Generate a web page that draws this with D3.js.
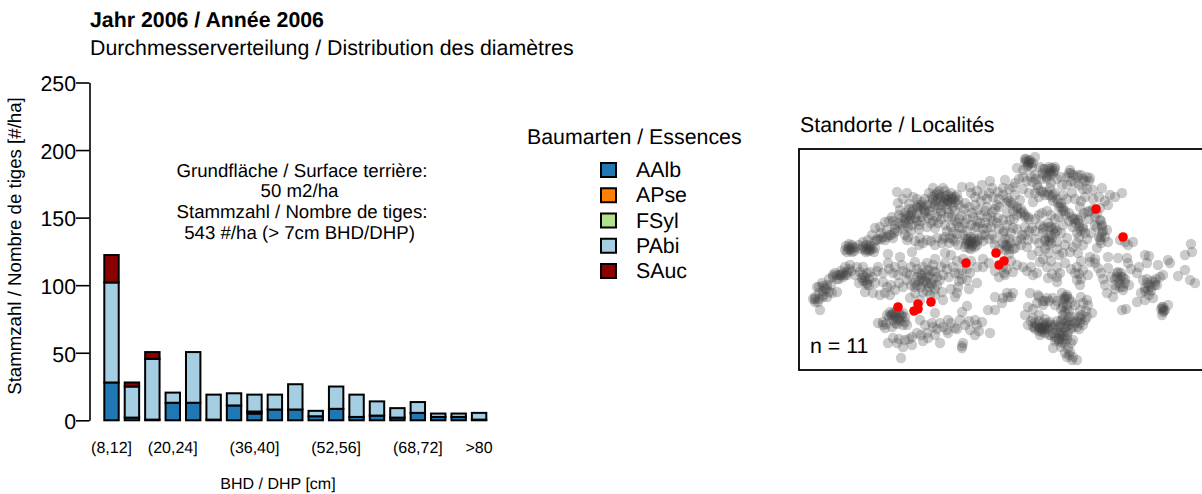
<!DOCTYPE html>
<html>
<head>
<meta charset="utf-8">
<script src="https://cdn.jsdelivr.net/npm/d3@7"></script>
<style>
html,body{margin:0;padding:0;background:#fff;overflow:hidden}
text{font-family:"Liberation Sans",Arial,sans-serif;fill:#000;text-rendering:geometricPrecision}
</style>
</head>
<body>
<script>
var classes=['(8,12]','(12,16]','(16,20]','(20,24]','(24,28]','(28,32]','(32,36]','(36,40]','(40,44]','(44,48]','(48,52]','(52,56]','(56,60]','(60,64]','(64,68]','(68,72]','(72,76]','(76,80]','>80'];
var shownClasses=['(8,12]','(20,24]','(36,40]','(52,56]','(68,72]','>80'];
var species=['AAlb','APse','FSyl','PAbi','SAuc'];
var speciesColors=['#1f78b4','#ff7f00','#b2df8a','#a6cee3','#8b0000'];
var aalb=[28,2,0.5,13,13,0.5,11,5,8,8,3,8.5,2.5,3.5,2,5.5,2.5,2.5,0.5];
var apse=[0,0,0,0,0,0,0,1.5,0,0,0,0,0,0,0,0,0,0,0];
var fsyl=[0,0,0,0,0,0,0,0,0,0,0,0,0,0,0,0,0,0,0];
var pabi=[74,23,45,7.5,37.5,18.5,9,12.5,11,18.7,4,16.5,16.5,10.5,7,8,2.5,2.5,5];
var sauc=[20.3,3,5,0,0,0,0,0,0,0,0,0,0,0,0,0,0,0,0];
var yTicks=[0,50,100,150,200,250];

// plots on the map (panel units, origin top left)
var plots=[[98,43],[99,54],[108,44],[114,48],[101,61],[93,68],[86,73],[96,76],[119,56],[113,63],[136,46],[149,46],[143,56],[156,53],[134,39],[144,39],[163,38],[171,38],[183,36],[191,32],[176,48],[184,46],[193,39],[199,43],
[46,101],[51,101],[53,96],[56,99],[66,101],[71,101],[76,99],[64,93],[73,86],[76,79],[81,78],[69,91],[79,91],[86,91],[94,89],[88,81],[103,69],[108,68],[113,76],[103,76],[109,78],[116,69],[123,68],[129,69],[119,59],[123,53],[133,54],[139,49],[148,51],[153,48],[159,51],[139,59],[149,68],[163,66],[173,64],[179,61],[166,54],
[109,88],[108,91],[121,89],[124,94],[128,91],[113,103],[89,105],[101,108],[136,79],[138,89],[143,94],[151,89],[154,83],[163,79],[171,93],[174,95],[169,90],[176,93],[159,96],[188,79],[183,86],[193,63],[188,58],[198,56],[199,69],[193,86],[176,78],[181,74],[146,76],[139,74],[153,68],
[16,153],[21,161],[24,146],[18,138],[23,134],[33,144],[38,143],[34,128],[41,126],[48,123],[44,128],[36,124],[51,116],[19,153],[26,139],[63,129],[68,136],[61,123],[71,123],[74,144],[66,143],[79,118],[89,114],[84,133],[96,141],[91,146],[86,144],[81,146],[99,126],[111,126],[108,131],[103,116],[116,113],[123,129],[129,121],[136,123],[141,131],[133,136],[143,143],[124,143],[116,144],[111,149],[121,151],[131,146],[159,138],[156,148],[168,131],[163,121],[171,124],[178,134],[184,118],[146,114],
[91,163],[94,171],[103,168],[106,173],[101,172],[98,161],[121,171],[136,164],[144,151],[168,157],[163,163],[161,171],[189,161],[196,161],[203,154],[84,173],[86,179],[93,178],[79,174],[94,189],[89,194],[104,198],[106,191],[113,188],[113,196],[118,184],[129,189],[136,186],[134,178],[141,194],[133,174],[141,174],[149,171],[148,181],[156,179],[149,184],[164,194],[163,199],[163,197],[171,181],[176,186],[176,171],[183,173],[191,184],[102,209],
[206,126],[214,123],[209,148],[214,144],[204,149],[231,144],[238,124],[234,126],[248,118],[241,113],[249,129],[258,133],[261,124],[278,118],[284,121],[289,126],[281,136],[278,131],[291,113],[299,119],[309,119],[306,136],[308,144],[314,148],[321,131],[324,141],[326,134],[319,123],[329,114],[338,124],[344,131],[323,161],[327,160],[338,153],[346,151],[354,149],[349,141],[356,133],[361,128],[364,126],[346,139],[379,127],[391,131],[396,134],[364,158],[364,163],[363,166],[369,156],[359,116],[371,114],[386,121],
[229,158],[226,166],[238,154],[239,146],[248,149],[254,149],[263,144],[264,154],[266,163],[273,153],[288,151],[289,156],[293,164],[281,161],[286,171],[281,174],[234,169],[238,176],[243,179],[241,179],[245,178],[243,181],[248,174],[251,173],[229,176],[241,186],[256,188],[261,186],[266,179],[269,183],[276,174],[274,191],[254,199],[263,194],[269,199],[268,208],[273,211],[278,211],[271,203],
[236,8],[231,11],[226,13],[229,16],[218,19],[224,21],[241,18],[244,24],[253,19],[254,24],[236,26],[271,21],[279,26],[288,28],[291,29],[268,28],[206,31],[204,39],[216,34],[233,33],[239,39],[244,43],[251,39],[263,36],[276,34],[273,44],[286,48],[294,41],[303,39],[311,46],[323,44],[316,48],[309,56],[301,59],[289,63],[281,58],
[218,58],[224,63],[229,68],[208,49],[221,51],[234,53],[243,64],[253,48],[259,54],[264,59],[273,68],[279,71],[284,78],[286,84],[301,71],[303,84],[301,91],[298,99],[309,93],[308,81],[204,71],[211,71],[223,86],[229,91],[233,79],[241,76],[249,74],[256,79],[264,76],[253,89],[249,96],[258,93],[268,89],[278,94],[271,103],[264,104],[284,96],[279,104],[204,94],[206,101],[216,99],[228,98],[233,106],[214,79],[321,91],[326,93],[334,93],[329,96],[346,106],[350,107],[392,95],[393,103],[386,106],[369,111],[319,109],[328,109],[309,108],[291,108],[296,110]];
// second pass through the dark patches, where the plots lie on top of each other
var densePlots=[[49,100],[53,103],[68,100],[72,97],[75,103],[140,46],[147,47],[152,50],[145,53],[137,52],[133,48],[125,60],[118,65],[112,70],[122,72],[95,84],[84,88],[172,92],[173,97],[167,95],[178,96],[170,99],[175,88],[192,78],[186,74],[243,183],[246,180],[252,176],[258,181],[262,182],[265,187],[258,190],[268,177],[272,180],[240,182],[236,180],[234,178],[248,178],[228,18],[232,14],[244,20],[252,22],[256,20],[232,28],[237,30],[248,43],[254,52],[260,58],[262,54],[276,70],[280,74],[282,68],[303,78],[302,88],[290,62],[294,60],[285,64],[204,46],[208,54],[222,60],[226,66],[245,78],[252,78],[256,84],[250,92],[252,86],[272,24],[284,30],[28,140],[24,142],[30,143],[16,150],[40,130],[46,126],[42,122],[50,120],[66,132],[70,130],[124,133],[128,128],[120,124],[134,130],[138,128],[130,138],[136,140],[122,138],[93,166],[100,170],[104,164],[98,175],[160,125],[163,130],[168,120],[84,176],[87,175],[318,128],[322,128],[326,130],[321,138],[352,138],[348,134],[357,130],[362,160],[366,161],[253,125],[258,128],[280,125],[282,130],[324,138],[206,90],[208,96],[214,100],[154,90],[158,85],[160,78],[144,90],[178,78],[184,80],[188,68],[194,72],[205,124],[208,120],[266,148],[264,150],[287,162],[283,166],[280,168],[200,58],[196,60],[208,64],[215,70]];
// third pass, the rest of the cloud
var fillPlots=[[104,50],[110,55],[118,50],[126,50],[130,44],[140,42],[146,42],[152,44],[158,46],[124,58],[128,56],[134,58],[142,62],[148,60],[154,58],[160,56],[165,60],[170,58],[176,56],[182,52],[188,50],[194,48],[200,50],[172,44],[178,42],[190,44],
[90,72],[94,72],[100,66],[106,64],[110,72],[118,72],[126,64],[132,66],[138,68],[142,70],[156,72],[160,70],[168,70],[174,68],[182,66],[186,62],[192,68],[198,74],[104,80],[112,82],[120,80],[128,78],[132,74],[148,82],[152,78],[158,74],[166,74],[172,76],[178,72],[186,86],[190,90],
[60,96],[62,100],[70,96],[76,92],[82,84],[90,86],[98,82],[106,86],[116,92],[120,96],[132,92],[136,96],[146,88],[150,94],[156,92],[164,86],[168,82],[180,90],[184,92],[196,90],[200,80],[204,84],
[30,130],[32,136],[38,130],[46,118],[52,122],[56,126],[58,118],[64,118],[68,124],[74,128],[76,134],[60,134],[78,122],[84,124],[90,120],[94,124],[96,118],[104,122],[108,124],[112,118],[118,120],[124,118],[128,114],[134,116],[142,118],[148,120],[154,118],[156,124],[150,128],[144,126],[136,110],[146,104],[152,106],[158,112],[164,110],[172,112],[178,118],[184,110],[190,114],[196,122],[200,128],[204,118],[212,112],[218,116],[224,118],[228,122],[232,118],[244,110],[252,112],[258,118],[266,114],[272,120],[276,124],[282,112],[296,114],[302,124],[312,128],[316,136],[304,130],[332,120],[340,118],[348,114],
[20,144],[28,148],[14,150],[100,134],[104,138],[92,136],[88,138],[112,136],[118,136],[128,142],[136,146],[116,138],[126,132],[152,140],[158,144],[160,132],[170,140],[196,148],[208,144],[212,148],[240,148],[244,152],[256,156],[268,148],[276,156],[282,148],[284,154],[316,140],[330,136],[342,144],[350,146],[358,136],[348,130],
[88,166],[96,164],[100,164],[106,168],[108,176],[96,174],[90,168],[104,176],[126,176],[138,180],[144,178],[152,174],[158,180],[166,176],[170,172],[178,176],[180,182],[128,184],[124,192],[122,186],[98,194],[100,190],[110,190],
[232,172],[236,174],[240,172],[244,174],[246,176],[250,180],[254,178],[256,176],[260,178],[262,172],[264,170],[268,172],[270,168],[272,172],[274,168],[278,178],[280,180],[284,176],[288,168],[270,162],[268,156],[262,160],[266,150],[246,170],[252,186],[256,192],[260,190],[262,198],[266,194],[268,190],[272,194],[270,206],[274,208],[266,204],[246,152],[250,152],[258,152],[244,156],[234,160],[240,166],
[210,40],[214,38],[220,30],[224,28],[228,32],[238,36],[242,30],[248,30],[252,34],[258,30],[262,28],[268,36],[272,32],[280,36],[284,40],[288,40],[294,50],[300,48],[306,52],[298,64],[296,68],[290,70],[282,52],[276,50],[268,50],[264,46],[256,44],[240,48],[236,44],[230,44],[224,40],[216,46],[212,54],[214,62],[218,66],[208,76],[212,84],[218,80],[226,78],[236,70],[240,66],[248,62],[252,66],[256,70],[260,68],[266,66],[270,72],[274,78],[278,84],[280,88],[288,90],[292,84],[298,78],[306,88],[296,76],[244,84],[246,90],[240,94],[236,90],[262,84],[266,96],[274,98],[258,100],[218,92],[222,96],[212,94],[240,102],[250,104],[246,100],[260,106],[226,10],[230,12],[234,14],[250,18],[256,18],[250,24],[246,26],[205,82],[210,90],[200,100],[196,96],[210,105]];
// last pass, the darkest cores again
var darkPlots=[[47,97],[50,98],[52,100],[48,103],[55,102],[50,95],[54,98],[64,98],[67,96],[70,99],[73,100],[67,103],[70,102],[78,90],[82,90],[88,88],[92,86],[96,80],[100,74],[106,70],[110,66],[114,60],[118,58],[122,56],[126,62],[130,62],[134,50],[138,44],[142,48],[146,50],[150,52],[154,50],[156,48],[142,52],[148,55],[152,54],[136,56],[110,60],[106,74],[112,66],[120,76],[134,72],[142,64],[150,64],[156,62],[166,90],[168,92],[170,95],[172,88],[174,90],[176,98],[178,92],[172,100],[166,98],
[227,10],[230,14],[233,18],[228,12],[246,20],[250,20],[252,26],[255,22],[248,28],[270,24],[274,26],[278,28],[282,26],[286,32],[290,32],[242,42],[246,46],[250,46],[254,46],[258,50],[262,58],[264,62],[266,62],[270,64],[274,70],[276,74],[280,78],[282,82],[284,80],[302,72],[303,76],[304,82],[300,88],[302,94],[210,52],[214,56],[218,60],[222,64],[226,68],[230,70],[208,98],[210,100],[206,96],[222,90],[226,86],[230,82],[236,82],[244,80],[250,78],[254,80],[258,82],[246,92],[250,88],[252,94],
[20,138],[24,137],[28,136],[24,148],[20,150],[16,148],[38,126],[42,126],[44,124],[48,126],[34,126],[64,126],[66,128],[68,134],[70,136],[64,132],[118,128],[122,126],[126,124],[130,126],[134,122],[116,134],[120,132],[128,134],[132,134],[138,136],[92,166],[96,168],[98,170],[102,166],[94,164],[258,172],[262,176],[266,174],[270,176],[274,178],[278,172],[282,170],[244,180],[240,178],[236,178],[246,184],[250,186],[254,184],[260,184],[264,184],[268,186],[264,190],[260,192],[268,146],[264,158],[268,160],[264,166],[270,150],[318,124],[320,134],[322,124],[324,128],[316,130],[350,136],[353,132],[356,136],[346,142],[352,142],[364,160],[365,162],[363,158]];
var siteX=[297,324,167,197,205,200,99,119,132,115,119];
var siteY=[60,88,114,104,112,116,158,155,153,162,160];

var svg=d3.select('body').append('svg').attr('width',1202).attr('height',494);

var yScale=d3.scaleLinear().domain([0,250]).range([420.3,82.5]);
var xScale=d3.scaleBand().domain(classes).range([104.3,486.3]).paddingInner(0.294).paddingOuter(0);
var colorScale=d3.scaleOrdinal().domain(species).range(speciesColors);

var rows=classes.map(function(c,i){
    return {cls:c,AAlb:aalb[i],APse:apse[i],FSyl:fsyl[i],PAbi:pabi[i],SAuc:sauc[i]};
});
var stacked=d3.stack().keys(species)(rows);

svg.append('text').attr('x',90).attr('y',27).style('font-size','21.33px').style('font-weight','bold').text('Jahr 2006 / Année 2006');
svg.append('text').attr('x',90).attr('y',55).style('font-size','21.33px').text('Durchmesserverteilung / Distribution des diamètres');

var yAxis=d3.axisLeft(yScale).tickValues(yTicks).tickSize(13.5).tickSizeOuter(0).tickPadding(0);
var yG=svg.append('g').attr('transform','translate(89.5,0)').call(yAxis);
yG.selectAll('text').attr('y',1.5).style('font-size','21.33px');
yG.selectAll('path,line').attr('stroke','#000').attr('stroke-width',1.6);

svg.append('text').attr('transform','translate(20.5,246) rotate(-90)').attr('text-anchor','middle').style('font-size','18.67px').text('Stammzahl / Nombre de tiges [#/ha]');

svg.append('g').selectAll('g')
    .data(stacked)
    .enter()
    .append('g')
    .attr('fill',function(d){return colorScale(d.key);})
    .selectAll('rect')
    .data(function(d){return d.filter(function(v){return v[1]>v[0];});})
    .enter()
    .append('rect')
    .attr('x',function(d){return xScale(d.data.cls);})
    .attr('y',function(d){return yScale(d[1]);})
    .attr('width',xScale.bandwidth())
    .attr('height',function(d){return yScale(d[0])-yScale(d[1]);})
    .attr('stroke','#000')
    .attr('stroke-width',2);

var xAxis=d3.axisBottom(xScale).tickValues(shownClasses).tickSize(0).tickPadding(0);
var xG=svg.append('g').attr('transform','translate(0,442)').call(xAxis);
xG.select('.domain').remove();
xG.selectAll('text').style('font-size','16px');
svg.append('text').attr('x',278).attr('y',489).attr('text-anchor','middle').style('font-size','16px').text('BHD / DHP [cm]');

var noteLines=['Grundfläche / Surface terrière:','50 m2/ha','Stammzahl / Nombre de tiges:','543 #/ha (> 7cm BHD/DHP)'];
var noteX=[302,299.5,302,299.5];
var noteY=[176.5,197,218,238.5];
svg.append('g').selectAll('text').data(noteLines).enter().append('text')
    .attr('x',function(d,i){return noteX[i];}).attr('y',function(d,i){return noteY[i];})
    .attr('text-anchor','middle').style('font-size','18.67px').text(function(d){return d;});

svg.append('text').attr('x',527).attr('y',144).style('font-size','21.33px').text('Baumarten / Essences');
var legendY=d3.scalePoint().domain(species).range([170,271]);
var legend=svg.append('g').selectAll('g').data(species).enter().append('g')
    .attr('transform',function(d){return 'translate(601,'+legendY(d)+')';});
legend.append('rect').attr('x',0).attr('y',-7).attr('width',15).attr('height',14)
    .attr('fill',function(d){return colorScale(d);}).attr('stroke','#000').attr('stroke-width',2);
legend.append('text').attr('x',35).attr('y',7).style('font-size','21.33px').text(function(d){return d;});

svg.append('text').attr('x',800).attr('y',132).style('font-size','21.33px').text('Standorte / Localités');

var mapX=d3.scaleLinear().domain([0,404]).range([799,1203]);
var mapY=d3.scaleLinear().domain([0,221]).range([149,370]);
var plotG=svg.append('g');
plotG.selectAll('circle').data(plots.concat(densePlots,fillPlots,darkPlots)).enter().append('circle')
    .attr('cx',function(d){return mapX(d[0]);})
    .attr('cy',function(d){return mapY(d[1]);})
    .attr('r',5.2)
    .attr('fill','#404040')
    .attr('fill-opacity',0.27);
svg.append('g').selectAll('circle').data(siteX).enter().append('circle')
    .attr('cx',function(d){return mapX(d);})
    .attr('cy',function(d,i){return mapY(siteY[i]);})
    .attr('r',4.8)
    .attr('fill','#ff0000');
svg.append('rect').attr('x',799).attr('y',149).attr('width',404).attr('height',221)
    .attr('fill','none').attr('stroke','#000').attr('stroke-width',1.8);
svg.append('text').attr('x',810).attr('y',353).style('font-size','21.33px').text('n = 11');
</script>
</body>
</html>
